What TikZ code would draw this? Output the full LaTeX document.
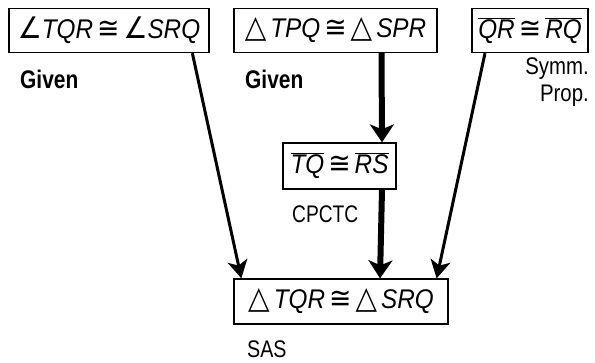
\documentclass[tikz,border=0pt]{standalone}
\usepackage{fontspec}
\setmainfont{Liberation Sans}
\newfontfamily\symfont{DejaVu Sans}
\usetikzlibrary{arrows.meta}
\newcommand{\angl}{\scalebox{1.1}{\symfont\char"2220}}
\newcommand{\trig}{\scalebox{1.15}{\symfont\char"25B3}}
\newcommand{\cngr}{\scalebox{1.1}{\symfont\char"2245}}
\newcommand{\segm}[1]{$\overline{\hbox{\itshape #1}}$}
\newcommand{\narrow}[1]{\scalebox{0.9}[1]{#1}}
\begin{document}
\begin{tikzpicture}[x=1pt,y=-1pt,
  stmt/.style={draw, line width=1.3pt, inner sep=0pt, minimum height=44pt,
    font=\fontsize{27}{29}\selectfont\itshape},
  reason/.style={font=\fontsize{24}{27}\selectfont, inner sep=0pt},
  given/.style={font=\fontsize{25.5}{28}\selectfont\bfseries, inner sep=0pt},
  thin link/.style={line width=3pt, -{Stealth[length=18pt,width=20pt,inset=5pt]}},
  thick link/.style={line width=6pt, -{Stealth[length=18pt,width=24pt,inset=5pt]}}]
\useasboundingbox (0,0) rectangle (595,362);
\fill[white] (0,0) rectangle (595,362);

% statements
\node[stmt, minimum width=200pt] (s1) at (109,30.5) {\narrow{\angl TQR\,\cngr\,\angl SRQ}};
\node[stmt, minimum width=203pt] (s2) at (335.5,30.5) {\narrow{\trig\,TPQ\,\cngr\,\trig\,SPR}};
\node[stmt, minimum width=116pt] (s3) at (530,30.5) {\narrow{\segm{QR}\,\cngr\,\segm{RQ}}};
\node[stmt, minimum width=113pt, minimum height=46pt] (s4) at (339.5,166) {\narrow{\segm{TQ}\,\cngr\,\segm{RS}}};
\node[stmt, minimum width=214pt, minimum height=45pt] (s5) at (341,301.5) {\narrow{\trig\,TQR\,\cngr\,\trig\,SRQ}};

% reasons
\node[given, anchor=base west] (g1) at (20,88) {\scalebox{0.82}[1]{Given}};
\node[given, anchor=base west] (g2) at (245,88) {\scalebox{0.82}[1]{Given}};
\node[reason, anchor=base east, align=right] (r3) at (589,101) {\scalebox{0.85}[1]{Symm.}\\\scalebox{0.85}[1]{Prop.}};
\node[reason, anchor=base west] (r4) at (292,222) {\scalebox{0.8}[1]{CPCTC}};
\node[reason, anchor=base west] (r5) at (247,357) {\scalebox{0.82}[1]{SAS}};

% links
\draw[thin link] ([xshift=184pt]s1.south west) -- ([xshift=8pt]s5.north west);
\draw[thick link] ([xshift=46pt]s2.south) -- ([xshift=42.5pt]s4.north);
\draw[thick link] ([xshift=42.5pt]s4.south) -- ([xshift=39pt]s5.north);
\draw[thin link] ([xshift=-45pt]s3.south) -- ([xshift=-12pt]s5.north east);
\end{tikzpicture}
\end{document}
